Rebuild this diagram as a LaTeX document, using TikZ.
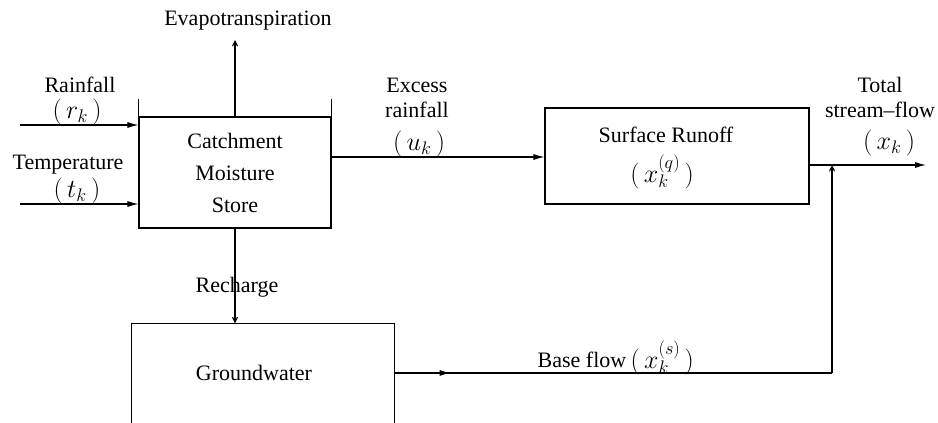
\RequirePackage{fix-cm}
\documentclass[tikz,border=0pt]{standalone}
\usepackage{fontspec}
\setmainfont{Liberation Serif}
\usetikzlibrary{arrows.meta}
\begin{document}
\begin{tikzpicture}[x=1pt, y=-1pt, line width=1.1pt,
  font=\fontsize{22}{26}\selectfont,
  box/.style={draw, inner sep=0pt, align=center},
  lbl/.style={inner sep=0pt, align=center},
  sym/.style={inner sep=0pt, font=\fontsize{26}{30}\selectfont},
  flow/.style={-{Latex[length=11pt,width=6pt]}},
  thinflow/.style={-{Straight Barb[length=5pt,width=5pt]}}]
\useasboundingbox (0,0) rectangle (938,423);

% blocks
\node[box, minimum width=192pt, minimum height=111pt,
      font=\fontsize{22}{32}\selectfont] (catch) at (235,172.5)
      {Catchment\\Moisture\\Store};
\draw (catch.north west) -- ++(0,-17);
\draw (catch.north east) -- ++(0,-17);

\node[box, minimum width=264pt, minimum height=96pt] (surf) at (677,156) {};
\node[lbl] (surft) at (666,135) {Surface Runoff};
\node[sym] (surfm) at (662,172) {$(\,x_k^{(q)}\,)$};

\node[inner sep=0pt, minimum width=262pt, minimum height=120pt] (gw) at (263,384) {};
\draw (gw.south west) -- (gw.north west) -- (gw.north east) -- (gw.south east);
\node[lbl] (gwt) at (254,373) {Groundwater};

% free ends
\coordinate (rainin) at (20,125);
\coordinate (tempin) at (20,204);
\coordinate (evapout) at (235,40);
\coordinate (excy) at (0,157);
\coordinate (totout) at (926,165);
\coordinate (join) at (832,165);
\coordinate (bend) at (832,373);

% labels
\node[lbl] (evap) at (248,21) {Evapotranspiration};
\node[lbl] (rain) at (80,85) {Rainfall};
\node[sym] (rainm) at (77,112) {$(\,r_k\,)$};
\node[lbl] (temp) at (68,165) {Temperature};
\node[sym] (tempm) at (77,191) {$(\,t_k\,)$};
\node[lbl] (exc1) at (417,85) {Excess};
\node[lbl] (exc2) at (417,110) {rainfall};
\node[sym] (excm) at (419,144) {$(\,u_k\,)$};
\node[lbl] (tot1) at (880,85) {Total};
\node[lbl] (tot2) at (880,110) {stream--flow};
\node[sym] (totm) at (889,143) {$(\,x_k\,)$};
\node[lbl] (rech) at (237,287) {Recharge};
\node[lbl] (base) at (582,360) {Base flow};
\node[sym, anchor=west] (basem) at (630,358) {$(\,x_k^{(s)}\,)$};

% connectors
\draw[flow] (rainin) -- (rainin -| catch.west);
\draw[flow] (tempin) -- (tempin -| catch.west);
\draw[thinflow] (catch.north) -- (evapout);
\draw[flow] (catch.east |- excy) -- (surf.west |- excy);
\draw[flow] (surf.east |- join) -- (totout);
\draw[thinflow] (catch.south) -- (catch.south |- gw.north);
\draw (gw.east |- bend) -- (bend);
\draw[flow] (gw.east |- bend) -- ++(56,0);
\draw[thinflow] (bend) -- (join);
\end{tikzpicture}
\end{document}
